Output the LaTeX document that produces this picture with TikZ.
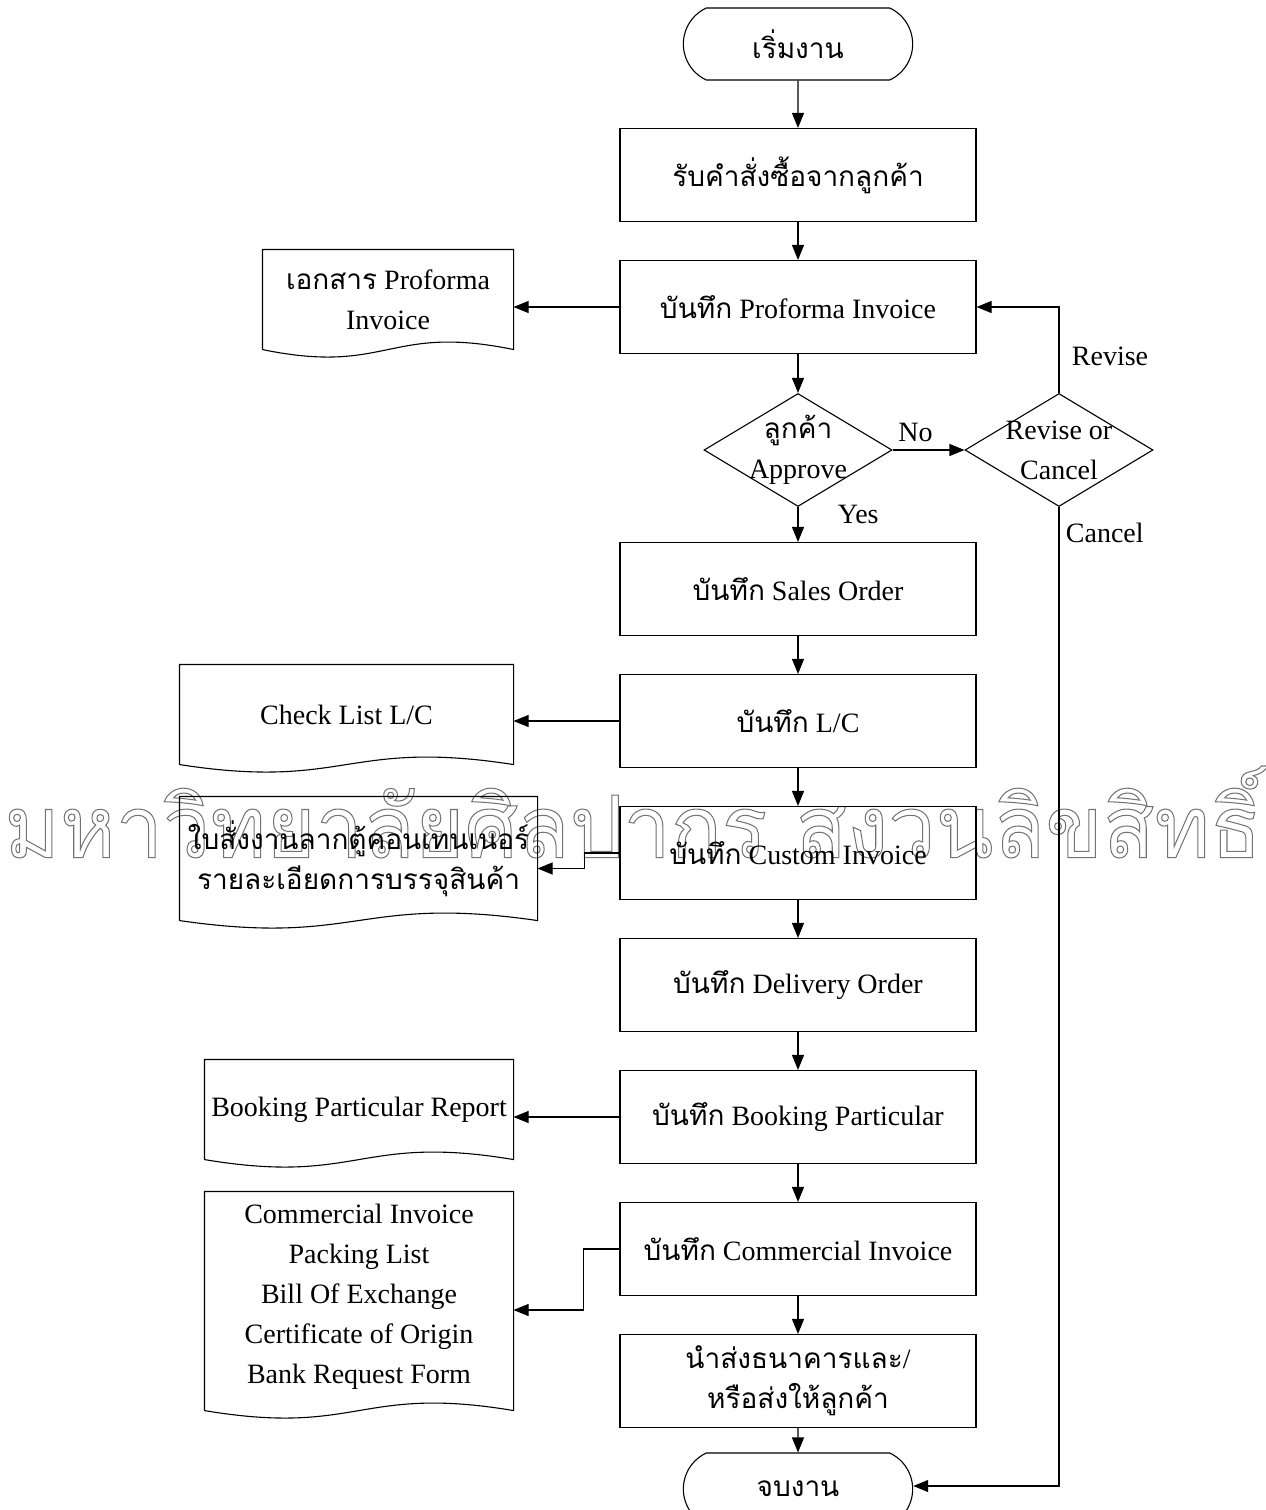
\documentclass[tikz,border=0pt]{standalone}
\usepackage{fontspec}
\setmainfont{Liberation Serif}
\newfontfamily\thaifont[Script=Thai]{Loma}
\newfontfamily\wmfont[Script=Thai,FakeBold=1.2]{Loma}
\newcommand{\thtxt}[1]{{\thaifont #1}}
\newcommand{\hollow}[1]{\special{pdf:code 1 1 1 rg 0.45 0.45 0.45 RG}#1\special{pdf:code 0 g 0 G}}
\usetikzlibrary{shapes.geometric,shapes.misc,arrows.meta,calc}

\tikzset{
  box/.style={draw, minimum width=356pt, minimum height=93pt, align=center},
  term/.style={draw, rounded rectangle, rounded rectangle arc length=130,
    minimum width=236pt, minimum height=72pt},
  dec/.style={draw, diamond, minimum width=188pt, minimum height=113pt, inner sep=0pt},
  doc/.style={align=center, inner sep=0pt},
  line/.style={-{Triangle[length=15pt,width=12pt]}}
}

\begin{document}
\begin{tikzpicture}[x=1pt, y=-1pt, line width=1.1pt,
    font=\fontsize{28}{40}\selectfont]
  \useasboundingbox (0,0) rectangle (1266,1510);
  % watermark
  \node[inner sep=0pt] (wmark) at (633,812)
    {\resizebox*{1257pt}{92pt}{\hollow{\wmfont มหาวิทยาลัยศิลปากร สงวนลิขสิทธิ์}}};
  % main column
  \node[term] (start) at (798,44) {\thtxt{เริ่มงาน}};
  \node[box] (recv) at (798,175) {\thtxt{รับคำสั่งซื้อจากลูกค้า}};
  \node[box] (pfi) at (798,307) {\thtxt{บันทึก} Proforma Invoice};
  \node[dec, label={[align=center]center:\thtxt{ลูกค้า}\\Approve}] (appr) at (798,450) {};
  \node[dec, label={[align=center]center:Revise or\\Cancel}] (rvc) at (1059,450) {};
  \node[box] (so) at (798,589) {\thtxt{บันทึก} Sales Order};
  \node[box] (lc) at (798,721) {\thtxt{บันทึก} L/C};
  \node[box] (cus) at (798,853) {\thtxt{บันทึก} Custom Invoice};
  \node[box] (dlv) at (798,985) {\thtxt{บันทึก} Delivery Order};
  \node[box] (bkp) at (798,1117) {\thtxt{บันทึก} Booking Particular};
  \node[box] (cmi) at (798,1249) {\thtxt{บันทึก} Commercial Invoice};
  \node[box] (bank) at (798,1381) {\thtxt{นำส่งธนาคารและ}/\\\thtxt{หรือส่งให้ลูกค้า}};
  \node[term] (stop) at (798,1489) {\thtxt{จบงาน}};
  % documents
  \node[doc, minimum width=250pt, minimum height=99pt] (dpfi) at (388,299.5)
    {\thtxt{เอกสาร} Proforma\\Invoice};
  \node[doc, minimum width=333pt, minimum height=99pt] (dchk) at (346.5,714.5)
    {Check List L/C};
  \node[doc, minimum width=357pt, minimum height=123pt] (dcon) at (358.5,858.5)
    {\thtxt{ใบสั่งงานลากตู้คอนเทนเนอร์}\\\thtxt{รายละเอียดการบรรจุสินค้า}};
  \node[doc, minimum width=308pt, minimum height=99pt] (dbkp) at (359,1109.5)
    {Booking Particular Report};
  \node[doc, minimum width=308pt, minimum height=218pt] (dcmi) at (359,1301)
    {Commercial Invoice\\Packing List\\Bill Of Exchange\\Certificate of Origin\\Bank Request Form\\[-25pt]};
  \foreach \d in {dpfi,dchk,dcon,dbkp,dcmi}
    \draw (\d.south west) -- (\d.north west) -- (\d.north east) -- (\d.south east)
      .. controls ($(\d.south)+(0,-26)$) and ($(\d.south)+(0,26)$) .. (\d.south west);
  % flow
  \draw[line] (start) -- (recv);
  \draw[line] (recv) -- (pfi);
  \draw[line] (pfi) -- (appr);
  \draw[line] (appr) -- node[pos=0.2, right=36pt] {Yes} (so);
  \draw[line] (so) -- (lc);
  \draw[line] (lc) -- (cus);
  \draw[line] (cus) -- (dlv);
  \draw[line] (dlv) -- (bkp);
  \draw[line] (bkp) -- (cmi);
  \draw[line] (cmi) -- (bank);
  \draw[line] (bank) -- (stop);
  \draw[line] (appr) -- node[pos=0.32, above=4pt] {No} (rvc);
  \draw[line] (rvc.north) |- node[pos=0.21, right=9pt] {Revise} (pfi.east);
  \draw[line] (rvc.south) |- node[pos=0.013, right=3pt] {Cancel} ([yshift=3pt]stop.east);
  % outputs
  \draw[line] (pfi.west) -- (pfi.west -| dpfi.east);
  \draw[line] (lc.west) -- (lc.west -| dchk.east);
  \draw[line] (cus.west) -- ++(-35,0) |- ([yshift=-10pt]dcon.east);
  \draw[line] (bkp.west) -- (bkp.west -| dbkp.east);
  \draw[line] (cmi.west) -- ++(-36,0) |- ([yshift=-9pt]dcmi.east);
\end{tikzpicture}
\end{document}
